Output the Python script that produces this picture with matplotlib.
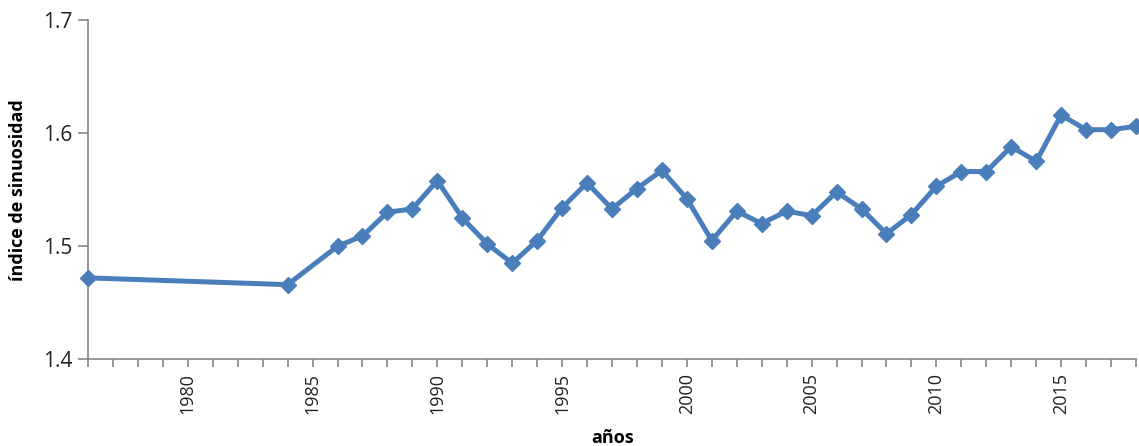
import matplotlib
matplotlib.use("Agg")
import matplotlib.pyplot as plt
from matplotlib.ticker import MultipleLocator, FuncFormatter

years = [1976, 1984, 1986, 1987, 1988, 1989, 1990, 1991, 1992, 1993, 1994, 1995,
         1996, 1997, 1998, 1999, 2000, 2001, 2002, 2003, 2004, 2005, 2006, 2007,
         2008, 2009, 2010, 2011, 2012, 2013, 2014, 2015, 2016, 2017, 2018]
sinuosity = [1.472, 1.466, 1.500, 1.509, 1.530, 1.533, 1.558, 1.525, 1.502, 1.485,
             1.505, 1.534, 1.556, 1.533, 1.551, 1.567, 1.542, 1.505, 1.531, 1.520,
             1.531, 1.527, 1.548, 1.533, 1.511, 1.528, 1.553, 1.566, 1.566, 1.588,
             1.575, 1.616, 1.603, 1.603, 1.606]
y_ticks = [1.4, 1.5, 1.6, 1.7]

plt.rcParams['font.family'] = ['Open Sans', 'DejaVu Sans']
fig = plt.figure(figsize=(11.39, 4.46), dpi=100)
ax = fig.add_axes([88/1139, 1 - 359.3/446, (1136 - 88)/1139, (359.3 - 20)/446])

blue = '#4a7ebb'
ax.plot(years, sinuosity, color=blue, lw=3.6, marker='D', ms=8.2,
        mfc=blue, mec=blue, mew=1, solid_joinstyle='round', clip_on=False, zorder=3)

ax.set_xlim(1976, 2018)
ax.set_ylim(1.4, 1.7)
ax.set_yticks(y_ticks)
ax.yaxis.set_major_formatter(FuncFormatter(lambda v, p: f"{v:.1f}"))
ax.xaxis.set_major_locator(MultipleLocator(1))
ax.xaxis.set_major_formatter(FuncFormatter(lambda v, p: f"{int(round(v))}" if int(round(v)) % 5 == 0 else ""))

gray = '#868686'
for s in ['top', 'right']:
    ax.spines[s].set_visible(False)
for s in ['left', 'bottom']:
    ax.spines[s].set_color(gray)
    ax.spines[s].set_linewidth(1.2)

ax.tick_params(axis='x', direction='out', length=6, width=1.2, color=gray,
               labelsize=13, labelrotation=90, pad=4, labelcolor='#222222')
ax.tick_params(axis='y', direction='out', length=7, width=1.2, color=gray,
               labelsize=15, pad=4, labelcolor='#222222')

ax.set_ylabel('índice de sinuosidad', fontsize=13, fontweight='bold', labelpad=12)
fig.text(613/1139, 1 - 443/446, 'años', ha='center', va='baseline', fontsize=13,
         fontweight='bold')

fig.savefig('out.png', dpi=100)
